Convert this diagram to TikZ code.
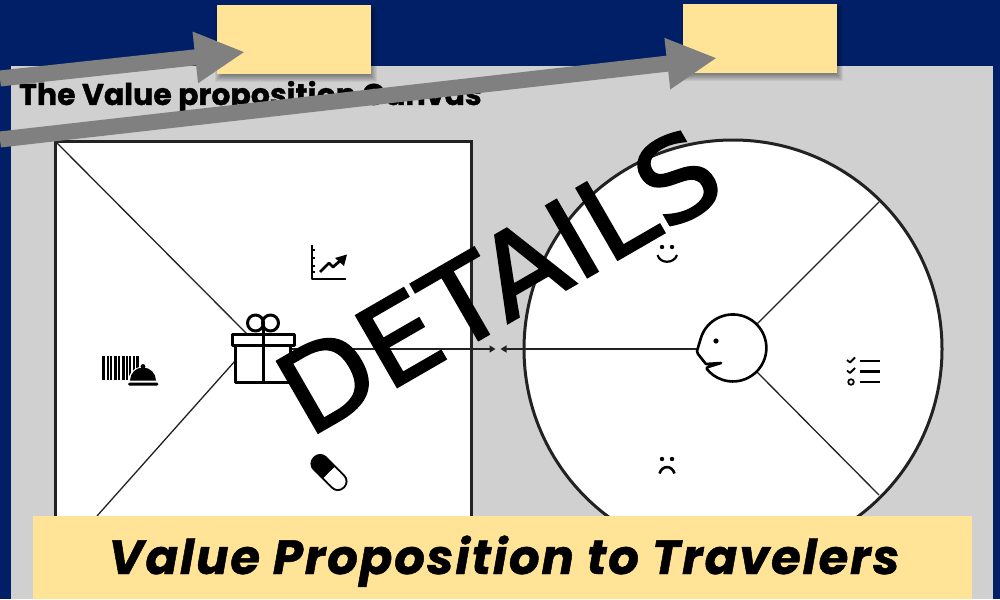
\documentclass[tikz,border=0pt]{standalone}
\usepackage{fontspec}
\setmainfont{Poppins}
\newfontfamily\titlefont[UprightFont=* Bold,FakeBold=1.2]{Poppins}
\newfontfamily\detailsfont[FakeStretch=1.05,FakeBold=2]{DejaVu Sans}
\newfontfamily\bannerfont[LetterSpace=4,FakeBold=1]{Poppins}
\usetikzlibrary{arrows.meta,calc}
\definecolor{navybg}{HTML}{001F66}
\definecolor{panelgray}{HTML}{D0D0D0}
\definecolor{sticky}{HTML}{FFE396}
\definecolor{arrowgray}{HTML}{808080}
\definecolor{inkline}{HTML}{222222}
\tikzset{
 stickybox/.style={fill=sticky,draw=none,inner sep=0pt,outer sep=0pt,minimum width=154pt,minimum height=69pt},
 bigarrow/.style={draw=arrowgray,line width=16pt,-{Triangle[length=50pt,width=48pt,fill=arrowgray]}},
 thinline/.style={draw=inkline,line width=1.3pt},
 frame/.style={draw=inkline,line width=3pt,fill=white,inner sep=0pt,outer sep=0pt},
 icon/.style={draw=black,line width=3pt,line join=round},
 tinyarrow/.style={thinline,-{Triangle[length=6pt,width=7pt]}},
}
\begin{document}
\begin{tikzpicture}[x=1pt,y=-1pt]
\useasboundingbox (0,0) rectangle (1000,599);
\fill[navybg] (0,0) rectangle (1000,599);
\fill[panelgray] (11,66) rectangle (993,599);
% title
\node[anchor=base west,inner sep=0pt,font=\titlefont\fontsize{30}{32}\selectfont,text=black] (title) at (19,105) {The Value proposition Canvas};
% left canvas
\node[frame,minimum width=416pt,minimum height=416pt,anchor=north west] (square) at (55,141) {};
\coordinate (giftTL) at (247,334);
\coordinate (giftBL) at (235,361);
\coordinate (lowerEnd) at (97,516);
\draw[thinline] (square.north west) -- (giftTL);
\draw[thinline] (lowerEnd) -- (giftBL);
% right canvas
\node[circle,frame,minimum size=418pt] (wheel) at (733,349) {};
\node[circle,inner sep=0pt,outer sep=0pt,minimum size=67pt] (head) at (733,348) {};
\coordinate (wheelNE) at (879,202);
\coordinate (wheelSE) at (879,495);
\coordinate (tipL) at (495.5,349);
\coordinate (tipR) at (500.5,349);
\draw[thinline] (head.45) -- (wheelNE);
\draw[thinline] (head.-45) -- (wheelSE);
\coordinate (giftR) at (290,349);
\coordinate (faceL) at (698,349);
\draw[tinyarrow] (giftR) -- (tipL);
\draw[tinyarrow] (faceL) -- (tipR);
% gift
\fill[white] (235,345) rectangle (290,382);
\draw[icon] (232.5,334) rectangle (294,345);
\draw[icon] (235,345) rectangle (290,382);
\draw[icon] (263,323) -- (263,382);
\draw[icon] (255.5,323) circle (8);
\draw[icon] (270.5,323) circle (8);
% chart icon
\draw[icon,line width=2.2pt] (312,245) -- (312,279) -- (346,279);
\foreach \yy in {250,258,266,272} \draw[icon,line width=1.4pt] (312,\yy) -- (315,\yy);
\draw[icon,line width=2.8pt] (320,272) -- (329,263) -- (333,267) -- (341,260);
\fill (347,254.5) -- (335,258) -- (344,266) -- cycle;
% barcode + cloche
\foreach \xx/\ww in {102/3,106.5/2,110/2,113.5/3,118/2,121.5/3,126/1.5,129/2,133/2,136/2.5}
 \fill (\xx,356) rectangle ++(\ww,24);
\fill[white] (128,382) arc[start angle=180,end angle=360,radius=15.5] -- cycle;
\fill (130,380.5) arc[start angle=180,end angle=360,radius=13] -- cycle;
\fill (143,366.5) circle (2.4);
\fill[rounded corners=1.5pt] (128,382.5) rectangle (158.5,385.5);
% pill
\begin{scope}[shift={(329,472.5)},rotate=-45]
\fill[black,rounded corners=9pt] (-22,-9.5) rectangle (22,9.5);
\fill[white,rounded corners=7pt] (0,-7.5) rectangle (20,7.5);
\fill[white] (0,-7.5) rectangle (8,7.5);
\end{scope}
% smile
\fill (662,247) circle (2.2);
\fill (672,247) circle (2.2);
\draw[icon,line width=2.2pt] (657.5,255) .. controls (660,264) and (674,264) .. (677,255);
% frown
\fill (662,459) circle (2.2);
\fill (672,459) circle (2.2);
\draw[icon,line width=2.6pt] (659.5,473.5) .. controls (662,465) and (672,465) .. (674.5,473.5);
% head
\draw[icon,line width=2.6pt,fill=white] (701,337.6) arc[start angle=-162,end angle=142,radius=33.5] -- (708,367) -- (721,363) -- (706,364) -- (703.5,361) -- (698,354) -- (697,351) -- cycle;
\fill (716,341) circle (2.6);
% list icon
\draw[icon,line width=1.8pt] (847,360) -- (850,362.5) -- (855,357.5);
\draw[icon,line width=1.8pt] (847,370.5) -- (850,373) -- (855,368);
\draw[icon,line width=1.7pt] (851,382) circle (2.8);
\foreach \yy in {361,371.5,382} \draw[icon,line width=2.8pt] (860,\yy) -- (880,\yy);
% sticky notes
\foreach \off in {7,6,5,4,3,2,1,0}{
 \fill[black,opacity=.06] (217+5-\off,5+8-\off) rectangle (371+\off-1,74+\off+1);
 \fill[black,opacity=.06] (683+5-\off,4+8-\off) rectangle (837+\off-1,73+\off+1);
}
\node[stickybox,anchor=north west] (noteA) at (217,5) {};
\node[stickybox,anchor=north west] (noteB) at (683,4) {};
% big arrows
\coordinate (startA) at (0,78.5);
\coordinate (startB) at (0,139.5);
\coordinate (endA) at (245,52);
\coordinate (endB) at (717,58);
\draw[bigarrow] (startA) -- (endA);
\draw[bigarrow] (startB) -- (endB);
% details stamp
\node[rotate=30,anchor=base west,inner sep=0pt,font=\detailsfont\fontsize{113}{115}\selectfont,text=black] (stamp) at (308,438.5) {DETAILS};
% banner
\node[fill=sticky,inner sep=0pt,outer sep=0pt,minimum width=939pt,minimum height=83pt,anchor=north west] (banner) at (33,516) {};
\node[anchor=base,inner sep=0pt,font=\bannerfont\bfseries\itshape\fontsize{48}{50}\selectfont,text=black] (bannertext) at (504,574) {Value Proposition to Travelers};
\end{tikzpicture}
\end{document}
